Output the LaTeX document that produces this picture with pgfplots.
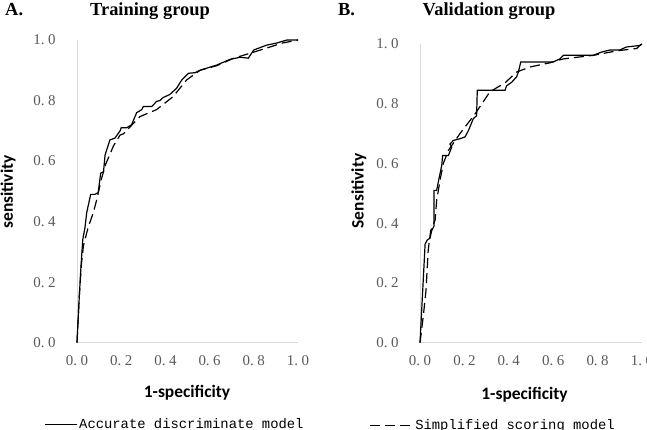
\documentclass[border=0pt]{standalone}
\usepackage{pgfplots}
\pgfplotsset{compat=1.18}
\usepackage{fontspec}
\setmainfont{Liberation Serif}
\newfontfamily\labelfont{Carlito}
\newfontfamily\legfont{Liberation Mono}
\definecolor{tickgray}{HTML}{595959}
\definecolor{axisgray}{HTML}{D9D9D9}
\newcommand\tl[2]{\mbox{#1.\hspace{3.5bp}#2}}

% ROC curves, training group
\pgfplotstableread{
x y
0.000 0.000
0.008 0.120
0.017 0.240
0.026 0.340
0.036 0.380
0.044 0.430
0.062 0.490
0.081 0.490
0.096 0.496
0.107 0.560
0.120 0.565
0.127 0.620
0.149 0.670
0.172 0.676
0.195 0.700
0.200 0.710
0.225 0.710
0.247 0.720
0.270 0.760
0.293 0.770
0.300 0.780
0.338 0.780
0.360 0.797
0.375 0.800
0.390 0.810
0.420 0.820
0.450 0.840
0.474 0.868
0.504 0.890
0.534 0.892
0.557 0.900
0.600 0.910
0.632 0.917
0.692 0.936
0.738 0.943
0.775 0.940
0.800 0.967
0.858 0.983
0.904 0.990
0.950 1.000
1.000 1.000
}\trainAcc
\pgfplotstableread{
x y
0.000 0.000
0.010 0.150
0.020 0.260
0.029 0.320
0.050 0.380
0.074 0.430
0.092 0.480
0.110 0.540
0.130 0.590
0.165 0.650
0.195 0.686
0.210 0.690
0.285 0.747
0.360 0.770
0.435 0.813
0.496 0.868
0.557 0.900
0.632 0.915
0.710 0.940
0.800 0.960
0.930 0.990
1.000 1.000
}\trainSimp

% ROC curves, validation group
\pgfplotstableread{
x y
0.000 0.000
0.023 0.330
0.033 0.344
0.045 0.350
0.053 0.376
0.063 0.390
0.063 0.510
0.075 0.510
0.083 0.540
0.098 0.594
0.102 0.627
0.128 0.627
0.143 0.655
0.135 0.665
0.150 0.677
0.180 0.683
0.203 0.689
0.218 0.710
0.240 0.750
0.255 0.760
0.258 0.845
0.383 0.845
0.390 0.860
0.413 0.872
0.435 0.890
0.443 0.906
0.454 0.940
0.600 0.940
0.630 0.950
0.646 0.962
0.780 0.962
0.818 0.973
0.856 0.980
0.900 0.980
0.930 0.990
0.990 0.995
1.000 1.000
}\validAcc
\pgfplotstableread{
x y
0.000 0.000
0.015 0.090
0.027 0.175
0.037 0.310
0.048 0.375
0.068 0.410
0.075 0.476
0.090 0.543
0.105 0.600
0.128 0.644
0.180 0.700
0.248 0.766
0.315 0.840
0.383 0.870
0.435 0.906
0.495 0.923
0.585 0.937
0.645 0.950
0.780 0.962
0.886 0.977
0.976 0.985
0.990 0.995
1.000 1.000
}\validSimp

\pgfplotsset{
  rocaxis/.style={
    scale only axis,
    anchor=south west,
    xmin=0, xmax=1, ymin=0, ymax=1,
    clip=false,
    axis x line=bottom, axis y line=left,
    axis line style={-, draw=axisgray, line width=1bp},
    major tick length=0pt,
    tick style={draw=none},
    xtick={0,0.2,0.4,0.6,0.8,1},
    ytick={0,0.2,0.4,0.6,0.8,1},
    xticklabels={\tl00,\tl02,\tl04,\tl06,\tl08,\tl10},
    yticklabels={\tl00,\tl02,\tl04,\tl06,\tl08,\tl10},
    tick label style={font=\fontsize{15}{16}\selectfont, text=tickgray},
    xticklabel style={anchor=center, yshift=-17.5bp},
    yticklabel style={anchor=center, xshift=-32.5bp},
    label style={font=\labelfont\bfseries\fontsize{17.5}{18}\selectfont},
    legend style={draw=none, fill=none, inner sep=0pt, anchor=west,
      font=\legfont\fontsize{13.9}{14}\selectfont,
      nodes={inner sep=1.5bp}},
    legend cell align=left,
  },
  accline/.style={black, line width=1.2bp},
  simpline/.style={black, line width=1.2bp, dash pattern=on 10bp off 5bp},
}

\begin{document}
\begin{tikzpicture}
\useasboundingbox (0bp,0bp) rectangle (647bp,430bp);

\node[anchor=base west, font=\bfseries\fontsize{18.5}{20}\selectfont, inner sep=0pt] at (5bp,414bp) {A.};
\node[anchor=base, font=\bfseries\fontsize{18.5}{20}\selectfont, inner sep=0pt] at (150bp,414bp) {Training group};
\node[anchor=base west, font=\bfseries\fontsize{18.5}{20}\selectfont, inner sep=0pt] at (338bp,414bp) {B.};
\node[anchor=base, font=\bfseries\fontsize{18.5}{20}\selectfont, inner sep=0pt] at (489bp,414bp) {Validation group};

\begin{axis}[rocaxis,
  at={(77bp,87.3bp)}, width=221bp, height=302.7bp,
  xlabel={1-specificity}, ylabel={sensitivity},
  xlabel style={at={(rel axis cs:0.498,-0.166)}, anchor=center},
  ylabel style={at={(rel axis cs:-0.312,0.498)}, anchor=center, rotate=0},
  legend style={at={(-0.148,-0.27)}},
  legend image code/.code={\draw[#1] (0bp,0bp) -- (32bp,0bp);},
]
\addplot[accline] table[x=x,y=y] {\trainAcc};
\addlegendentry{Accurate discriminate model}
\addplot[simpline, forget plot] table[x=x,y=y] {\trainSimp};
\end{axis}

\begin{axis}[rocaxis,
  at={(420bp,87.3bp)}, width=222bp, height=298.7bp,
  xlabel={1-specificity}, ylabel={Sensitivity},
  xlabel style={at={(rel axis cs:0.471,-0.175)}, anchor=center},
  ylabel style={at={(rel axis cs:-0.275,0.508)}, anchor=center, rotate=0},
  legend style={at={(-0.228,-0.277)}},
  legend image code/.code={\draw[#1] (0bp,0bp) -- (43bp,0bp);},
]
\addplot[accline, forget plot] table[x=x,y=y] {\validAcc};
\addplot[simpline] table[x=x,y=y] {\validSimp};
\addlegendentry{Simplified scoring model}
\end{axis}
\end{tikzpicture}
\end{document}
